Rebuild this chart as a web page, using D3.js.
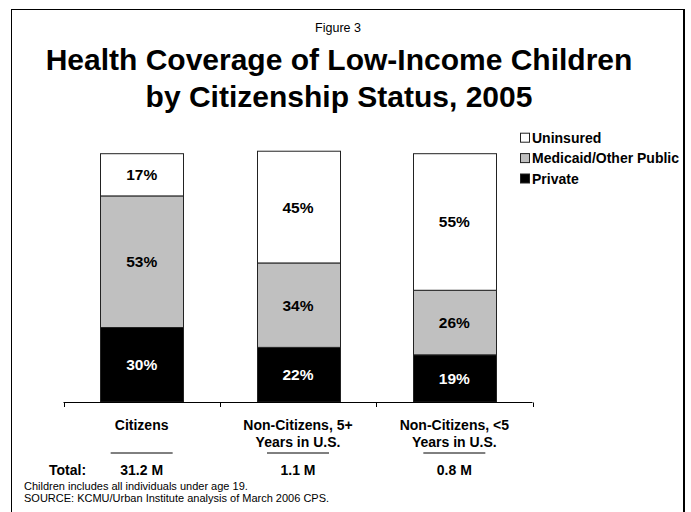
<!DOCTYPE html>
<html>
<head>
<meta charset="utf-8">
<script src="https://cdn.jsdelivr.net/npm/d3@7"></script>
<style>
  html, body { margin: 0; padding: 0; background: #fff; }
  svg { display: block; font-family: Arial, "Liberation Sans", sans-serif; }
</style>
</head>
<body>
<svg id="chart" width="691" height="512"></svg>
<script>
// Coverage shares (%) by citizenship status
const categories = ["Citizens", "Non-Citizens, 5+ Years in U.S.", "Non-Citizens, <5 Years in U.S."];
const categoryLines = [["Citizens"], ["Non-Citizens, 5+", "Years in U.S."], ["Non-Citizens, <5", "Years in U.S."]];
const privateShare = [30, 22, 19];
const publicShare = [53, 34, 26];
const uninsuredShare = [17, 45, 55];
const totals = ["31.2 M", "1.1 M", "0.8 M"];
const seriesKeys = ["private", "public", "uninsured"];
const seriesNames = { uninsured: "Uninsured", public: "Medicaid/Other Public", private: "Private" };
const legendOrder = ["uninsured", "public", "private"];

const fills = { private: "#000000", public: "#c0c0c0", uninsured: "#ffffff" };
const labelColors = { private: "#ffffff", public: "#000000", uninsured: "#000000" };

const rows = categories.map((c, i) => ({
  category: c,
  private: privateShare[i],
  public: publicShare[i],
  uninsured: uninsuredShare[i]
}));

const svg = d3.select("#chart");

// Outer frame
svg.append("rect")
  .attr("x", 11.5).attr("y", 9.5)
  .attr("width", 672).attr("height", 600)
  .attr("fill", "none").attr("stroke", "#000").attr("stroke-width", 1);
svg.append("line")
  .attr("x1", 684.5).attr("x2", 684.5).attr("y1", 9).attr("y2", 512)
  .attr("stroke", "#000").attr("stroke-width", 1);

// Headings
svg.append("text")
  .attr("x", 338).attr("y", 31.5)
  .attr("text-anchor", "middle")
  .attr("font-size", 12.5)
  .text("Figure 3");

const titleLines = ["Health Coverage of Low-Income Children", "by Citizenship Status, 2005"];
svg.selectAll("text.title")
  .data(titleLines)
  .join("text")
  .attr("class", "title")
  .attr("x", 339)
  .attr("y", (d, i) => 70 + i * 37)
  .attr("text-anchor", "middle")
  .attr("font-size", 30)
  .attr("font-weight", "bold")
  .text(d => d);

// Scales
const x = d3.scaleBand()
  .domain(categories)
  .range([63.5, 532.5])
  .paddingInner(0.47)
  .paddingOuter(0.235);

const y = d3.scaleLinear()
  .domain([0, 100])
  .range([402, 153.7]);

const stacked = d3.stack().keys(seriesKeys)(rows);

// Bars
const layers = svg.append("g").selectAll("g")
  .data(stacked)
  .join("g");

layers.selectAll("rect")
  .data(s => s.map(d => ({ key: s.key, d })))
  .join("rect")
  .attr("x", p => Math.round(x(p.d.data.category)) + 0.5)
  .attr("y", p => y(p.d[1]))
  .attr("width", Math.round(x.bandwidth()))
  .attr("height", p => y(p.d[0]) - y(p.d[1]))
  .attr("fill", p => fills[p.key])
  .attr("stroke", "#222")
  .attr("stroke-width", 1);

// Value labels
layers.selectAll("text")
  .data(s => s.map(d => ({ key: s.key, d })))
  .join("text")
  .attr("x", p => x(p.d.data.category) + x.bandwidth() / 2)
  .attr("y", p => (y(p.d[0]) + y(p.d[1])) / 2 + 5.5)
  .attr("text-anchor", "middle")
  .attr("font-size", 15.5)
  .attr("font-weight", "bold")
  .attr("fill", p => labelColors[p.key])
  .text(p => (p.d[1] - p.d[0]) + "%");

// Category axis: line with ticks at band boundaries
const boundaries = [63.5, ...categories.map(c => x(c) + x.bandwidth() / 2 + x.step() / 2)];
const axisG = svg.append("g");
axisG.append("line")
  .attr("x1", 63.5).attr("x2", 532.5)
  .attr("y1", 402.5).attr("y2", 402.5)
  .attr("stroke", "#000");
axisG.selectAll("line.tick")
  .data(boundaries)
  .join("line")
  .attr("class", "tick")
  .attr("x1", d => Math.round(d) + 0.5).attr("x2", d => Math.round(d) + 0.5)
  .attr("y1", 402.5).attr("y2", 407)
  .attr("stroke", "#000");

// Category labels
const catG = svg.append("g").selectAll("text")
  .data(categories)
  .join("text")
  .attr("x", c => x(c) + x.bandwidth() / 2)
  .attr("y", 429.5)
  .attr("text-anchor", "middle")
  .attr("font-size", 14)
  .attr("font-weight", "bold");
catG.selectAll("tspan")
  .data((c, i) => categoryLines[i])
  .join("tspan")
  .attr("x", function () { return this.parentNode.getAttribute("x"); })
  .attr("dy", (d, i) => i === 0 ? 0 : 17.5)
  .text(d => d);

// Underlines above the totals
svg.append("g").selectAll("line")
  .data(categories)
  .join("line")
  .attr("x1", c => x(c) + x.bandwidth() / 2 - 31)
  .attr("x2", c => x(c) + x.bandwidth() / 2 + 31)
  .attr("y1", 453).attr("y2", 453)
  .attr("stroke", "#000");

// Totals row
svg.append("text")
  .attr("x", 49).attr("y", 475)
  .attr("font-size", 14).attr("font-weight", "bold")
  .text("Total:");
svg.append("g").selectAll("text")
  .data(categories)
  .join("text")
  .attr("x", c => x(c) + x.bandwidth() / 2)
  .attr("y", 475)
  .attr("text-anchor", "middle")
  .attr("font-size", 14).attr("font-weight", "bold")
  .text((c, i) => totals[i]);

// Notes
const notes = ["Children includes all individuals under age 19.", "SOURCE: KCMU/Urban Institute analysis of March 2006 CPS."];
svg.append("g").selectAll("text")
  .data(notes)
  .join("text")
  .attr("x", 24)
  .attr("y", (d, i) => 490 + i * 12)
  .attr("font-size", 11)
  .text(d => d);

// Legend
const legend = svg.append("g").selectAll("g")
  .data(legendOrder)
  .join("g")
  .attr("transform", (k, i) => `translate(520, ${137.7 + i * 20.4})`);
legend.append("rect")
  .attr("x", 0.5).attr("y", -4.5)
  .attr("width", 9).attr("height", 9)
  .attr("fill", k => fills[k])
  .attr("stroke", "#222");
legend.append("text")
  .attr("x", 12).attr("y", 5)
  .attr("font-size", 14).attr("font-weight", "bold")
  .text(k => seriesNames[k]);
</script>
</body>
</html>
